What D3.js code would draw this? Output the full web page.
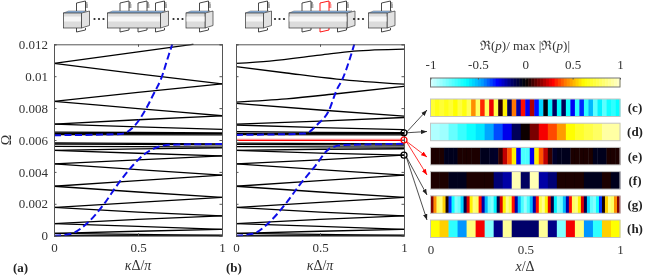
<!DOCTYPE html>
<html>
<head>
<meta charset="utf-8">
<script src="https://cdn.jsdelivr.net/npm/d3@7"></script>
<style>
	body { margin: 0; background: #fff; }
	svg { display: block; }
	text { font-family: "Liberation Serif", serif; fill: #333; }
	.axis text { font-size: 13px; }
	.axis path, .axis line { stroke: #555; }
	.bold { font-weight: bold; fill: #222; }
</style>
</head>
<body>
<div class="js-graph"></div>
<script>
(function(d3) {
	// dispersion bands, [kappa, omega]
	var bandsA = [
		[[0, 0], [1, 0.00003]],
		[[0, 0.00015], [0.5, 0.00008], [1, 0]],
		[[0, 0.00015], [0.5, 0.00028], [1, 0.0004]],
		[[0, 0.00076], [0.5, 0.00058], [1, 0.0004]],
		[[0, 0.00076], [0.5, 0.00102], [1, 0.00124]],
		[[0, 0.00177], [0.5, 0.00148], [1, 0.00124]],
		[[0, 0.00177], [0.5, 0.00209], [1, 0.0024]],
		[[0, 0.0031], [0.5, 0.00274], [1, 0.0024]],
		[[0, 0.0031], [0.5, 0.00345], [1, 0.0038]],
		[[0, 0.0045], [0.5, 0.00414], [1, 0.0038]],
		[[0, 0.0045], [0.5, 0.00476], [1, 0.005]],
		[[0, 0.00535], [0.5, 0.00517], [1, 0.005]],
		[[0, 0.00535], [0.5, 0.00544], [1, 0.0055]],
		[[0, 0.0056], [0.5, 0.00558], [1, 0.00555]],
		[[0, 0.00575], [0.5, 0.00573], [1, 0.0057]],
		[[0, 0.00582], [1, 0.00576]],
		[[0, 0.00634], [1, 0.00632]],
		[[0, 0.00642], [1, 0.0064]],
		[[0, 0.0065], [0.5, 0.00647], [1, 0.00645]],
		[[0, 0.0070], [0.5, 0.00682], [1, 0.00667]],
		[[0, 0.0070], [0.5, 0.00727], [1, 0.00752]],
		[[0, 0.00842], [0.5, 0.00797], [1, 0.00752]],
		[[0, 0.00842], [0.5, 0.00898], [1, 0.00952]],
		[[0, 0.0108], [0.5, 0.01014], [1, 0.00952]],
		[[0, 0.0108], [0.5, 0.01152], [0.83, 0.012]]
	];
	var bandsB = [
		[[0, 0], [1, 0.00003]],
		[[0, 0.00015], [0.5, 0.00008], [1, 0]],
		[[0, 0.00015], [0.5, 0.00028], [1, 0.0004]],
		[[0, 0.00076], [0.5, 0.00058], [1, 0.0004]],
		[[0, 0.00076], [0.5, 0.00102], [1, 0.00124]],
		[[0, 0.00177], [0.5, 0.00148], [1, 0.00124]],
		[[0, 0.00177], [0.5, 0.00209], [1, 0.0024]],
		[[0, 0.0031], [0.5, 0.00274], [1, 0.0024]],
		[[0, 0.0031], [0.5, 0.00345], [1, 0.0038]],
		[[0, 0.0045], [0.5, 0.00414], [1, 0.0038]],
		[[0, 0.0045], [0.5, 0.00476], [1, 0.00505]],
		[[0, 0.00535], [0.5, 0.00518], [1, 0.00505]],
		[[0, 0.00535], [0.5, 0.00542], [1, 0.00545]],
		[[0, 0.00558], [1, 0.00555]],
		[[0, 0.00572], [1, 0.00568]],
		[[0, 0.0058], [1, 0.00576]],
		[[0, 0.00634], [1, 0.00632]],
		[[0, 0.00642], [1, 0.0064]],
		[[0, 0.00652], [0.5, 0.00648], [1, 0.00646]],
		[[0, 0.00694], [0.5, 0.00678], [1, 0.00665]],
		[[0, 0.007], [0.5, 0.00718], [1, 0.00741]],
		[[0, 0.0083], [0.5, 0.00788], [1, 0.0075]],
		[[0, 0.00838], [0.3, 0.00858], [0.6, 0.0089], [1, 0.00937]],
		[[0, 0.0106], [0.3, 0.0102], [0.6, 0.00982], [1, 0.0095]],
		[[0, 0.0108], [0.2, 0.01095], [0.5, 0.01132], [0.7, 0.01157], [1, 0.0117]]
	];
	var redLines = [
		[[0, 0.00604], [1, 0.00604]],
		[[0, 0.00597], [1, 0.00597]]
	];
	var lowerFluidA = [[0, 0], [0.095, 0.0001], [0.195, 0.00076], [0.294, 0.00193], [0.378, 0.0032], [0.473, 0.00445], [0.533, 0.00507], [0.592, 0.00545], [0.69, 0.0057], [1, 0.00575]];
	var upperFluidA = [[0, 0.0063], [0.394, 0.00637], [0.483, 0.00693], [0.545, 0.0079], [0.596, 0.00895], [0.636, 0.0098], [0.682, 0.0113], [0.704, 0.012]];
	var lowerFluidB = [[0, 0], [0.1, 0.00012], [0.192, 0.00078], [0.29, 0.00193], [0.38, 0.0032], [0.47, 0.00435], [0.55, 0.0054], [0.63, 0.00568], [0.77, 0.00572], [1, 0.00576]];
	var upperFluidB = [[0, 0.00632], [0.41, 0.0064], [0.49, 0.00703], [0.55, 0.00778], [0.6, 0.00915], [0.633, 0.0098], [0.68, 0.01117], [0.704, 0.012]];

	var xTicks = [0, 0.5, 1];
	var yTicks = [0, 0.002, 0.004, 0.006, 0.008, 0.01, 0.012];
	var colorTicks = [-1, -0.5, 0, 0.5, 1];

	// pressure profiles along the cell
	var fieldC = [0.72, 0.66, 0.72, 0.66, 0.72, 0.62, 0.74, 0.64, 0.78, 0.45, 0.8, 0.33, 0.8, 0.27, 0.75, 0.05, 0.6, -0.12, 0.42, -0.2, 0.3, -0.28, 0.2, -0.3, -0.55, -0.02, -0.6, -0.13, -0.62, -0.12, -0.65, -0.28, -0.7, -0.33, -0.7, -0.5, -0.78, -0.6, -0.78, -0.65, -0.7, -0.62];
	var fieldD = [-0.93, -0.9, -0.8, -0.72, -0.65, -0.58, -0.47, -0.37, -0.27, -0.12, 0.02, 0.14, 0.28, 0.37, 0.47, 0.62, 0.7, 0.75, 0.8, 0.92, 0.92];
	var fieldE = [0.03, 0.03, 0.03, -0.04, -0.04, -0.04, 0.03, 0.03, 0.03, 0.03, 0.03, -0.04, -0.04, -0.05, -0.06, 0.06, 0.22, 0.38, 0.6, -0.28, -0.75, -0.75, -0.28, 0.6, 0.38, 0.22, 0.06, -0.06, -0.04, -0.04, -0.04, 0.03, 0.03, 0.03, 0.03, 0.03, -0.04, -0.04, -0.04, 0.03, 0.03, 0.03];
	var fieldF = [0.03, 0.03, -0.04, -0.04, 0.03, 0.03, 0.03, -0.15, -0.2, 0.95, -0.13, 0.95, -0.2, -0.15, 0.03, 0.03, 0.03, -0.04, -0.04, 0.03, -0.04];
	var fieldG = [0.15, 0.45, 0.8, 0.85, 0.55, 0.03, -0.35, -0.65, -0.85, -0.8, -0.55, -0.1, 0.25, 0.6, 0.85, 0.8, 0.3, -0.2, -0.5, -0.8, -0.85, -0.6, -0.1, 0.25, 0.6, 0.88, 0.75, 0.3, -0.2, -0.5, -0.75, -0.88, -0.75, -0.5, -0.2, 0.3, 0.75, 0.88, 0.6, 0.25, -0.1, -0.6, -0.85, -0.8, -0.5, -0.2, 0.3, 0.8, 0.85, 0.6, 0.25, -0.1, -0.55, -0.8, -0.85, -0.65, -0.35, 0.03, 0.55, 0.85, 0.8, 0.45, 0.15];
	var fieldH = [0.63, 0.55, -0.7, -0.45, 0.85, 0.28, -0.85, -0.17, 0.9, -0.14, -0.14, -0.14, 0.9, -0.17, -0.85, 0.28, 0.85, -0.45, -0.7, 0.55, 0.63];
	var fieldNames = ['(c)', '(d)', '(e)', '(f)', '(g)', '(h)'];
	var fields = [fieldC, fieldD, fieldE, fieldF, fieldG, fieldH];

	// marked modes at the zone edge in panel (b), and which profiles they go to
	var markedModes = [
		{ omega: 0.00645, color: '#000', targets: [0, 1] },
		{ omega: 0.006, color: '#f00', targets: [2, 3] },
		{ omega: 0.00505, color: '#000', targets: [4, 5] }
	];

	var colorStops = [-1, -0.62, -0.46, -0.29, -0.13, 0, 0.13, 0.29, 0.43, 0.62, 1],
		colorValues = ['#d8ffff', '#00ffff', '#00a0ff', '#0000ff', '#000060', '#000000', '#700000', '#ff0000', '#ff8000', '#ffff00', '#ffffcf'];

	var w = 645,
		h = 275,
		svg = d3.select('.js-graph').append('svg');
	svg.attr('width', w).attr('height', h);

	var defs = svg.append('defs');
	defs.append('filter')
		.attr('id', 'soft')
		.attr('filterUnits', 'userSpaceOnUse')
		.attr('x', 0).attr('y', 0).attr('width', w).attr('height', h)
		.append('feGaussianBlur')
		.attr('stdDeviation', 0.35);

	var graph = svg.append('g').attr('filter', 'url(#soft)');

	var color = d3.scaleLinear().domain(colorStops).range(colorValues).clamp(true);
	var y = d3.scaleLinear().domain([0, 0.012]).range([235.7, 44.3]);
	var line = d3.line().curve(d3.curveMonotoneX);
	var plainNumber = function(d) { return String(d); };

	[['arrow-black', '#222'], ['arrow-red', '#f00']].forEach(function(a) {
		defs.append('marker')
			.attr('id', a[0])
			.attr('viewBox', '0 0 8 6')
			.attr('refX', 8)
			.attr('refY', 3)
			.attr('markerWidth', 6)
			.attr('markerHeight', 5)
			.attr('markerUnits', 'userSpaceOnUse')
			.attr('orient', 'auto')
			.append('path')
			.attr('d', 'M0,0L8,3L0,6Z')
			.attr('fill', a[1]);
	});

	function drawPanel(left, bands, lower, upper, red, showY, tag, tagX) {
		var x = d3.scaleLinear().domain([0, 1]).range([left, left + 168]);
		line.x(function(d) { return x(d[0]); }).y(function(d) { return y(d[1]); });

		var g = graph.append('g');

		g.selectAll('path.band')
			.data(bands)
			.enter()
			.append('path')
			.attr('class', 'band')
			.attr('d', line)
			.attr('fill', 'none')
			.attr('stroke', '#000')
			.attr('stroke-width', 1.3);

		if (red) {
			g.selectAll('path.red')
				.data(red)
				.enter()
				.append('path')
				.attr('class', 'red')
				.attr('d', line)
				.attr('fill', 'none')
				.attr('stroke', function(d, i) { return i ? '#f00' : '#ff8a8a'; })
				.attr('stroke-width', 1.2);
		}

		g.selectAll('path.fluid')
			.data([lower, upper])
			.enter()
			.append('path')
			.attr('class', 'fluid')
			.attr('d', line)
			.attr('fill', 'none')
			.attr('stroke', '#1010e8')
			.attr('stroke-width', 2)
			.attr('stroke-dasharray', '7,3.5');

		g.append('g')
			.attr('class', 'axis')
			.attr('transform', 'translate(0,235.7)')
			.call(d3.axisBottom(x).tickValues(xTicks).tickFormat(plainNumber).tickSize(-2.5).tickPadding(7));
		g.append('g')
			.attr('class', 'axis')
			.attr('transform', 'translate(0,44.3)')
			.call(d3.axisTop(x).tickValues(xTicks).tickFormat('').tickSize(-2.5));
		g.append('g')
			.attr('class', 'axis')
			.attr('transform', 'translate(' + left + ',0)')
			.call(d3.axisLeft(y).tickValues(yTicks).tickFormat(showY ? plainNumber : '').tickSize(-2.5).tickPadding(6));
		g.append('g')
			.attr('class', 'axis')
			.attr('transform', 'translate(' + (left + 168) + ',0)')
			.call(d3.axisRight(y).tickValues(yTicks).tickFormat('').tickSize(-2.5));

		var label = g.append('text')
			.attr('x', x(0.5))
			.attr('y', 270)
			.attr('text-anchor', 'middle')
			.style('font-size', '14px');
		label.append('tspan').style('font-style', 'italic').text('κ');
		label.append('tspan').text('Δ/');
		label.append('tspan').style('font-style', 'italic').text('π');

		g.append('text')
			.attr('class', 'bold')
			.attr('x', tagX)
			.attr('y', 272)
			.style('font-size', '13px')
			.text(tag);

		return x;
	}

	drawPanel(54, bandsA, lowerFluidA, upperFluidA, null, true, '(a)', 13);
	var xB = drawPanel(236, bandsB, lowerFluidB, upperFluidB, redLines, false, '(b)', 226);

	graph.append('text')
		.attr('transform', 'translate(11,140) rotate(-90)')
		.attr('text-anchor', 'middle')
		.style('font-size', '14px')
		.text('Ω');

	// colorbar
	var barLeft = 430.5,
		barRight = 620,
		cb = d3.scaleLinear().domain([-1, 1]).range([barLeft, barRight]),
		levels = d3.range(64);

	graph.selectAll('rect.level')
		.data(levels)
		.enter()
		.append('rect')
		.attr('class', 'level')
		.attr('x', function(d) { return cb(-1 + 2 * d / 64); })
		.attr('y', 78)
		.attr('width', (barRight - barLeft) / 64 + 0.5)
		.attr('height', 9)
		.attr('fill', function(d) { return color(-1 + 2 * (d + 0.5) / 64); });
	graph.append('rect')
		.attr('x', barLeft)
		.attr('y', 78)
		.attr('width', barRight - barLeft)
		.attr('height', 9)
		.attr('fill', 'none')
		.attr('stroke', '#777');
	graph.append('g')
		.attr('class', 'axis')
		.attr('transform', 'translate(0,78)')
		.call(d3.axisTop(cb).tickValues(colorTicks).tickFormat(plainNumber).tickSize(-1.5).tickPadding(9))
		.call(function(s) { s.select('.domain').remove(); });

	var title = graph.append('text')
		.attr('x', 525)
		.attr('y', 50)
		.attr('text-anchor', 'middle')
		.style('font-size', '13px');
	title.append('tspan').text('ℜ(');
	title.append('tspan').style('font-style', 'italic').text('p');
	title.append('tspan').text(')/ max |ℜ(');
	title.append('tspan').style('font-style', 'italic').text('p');
	title.append('tspan').text(')|');

	// profile strips
	var stripTop = d3.scalePoint().domain(fieldNames).range([99, 220]),
		stripH = 17.5;

	fields.forEach(function(values, i) {
		var cell = d3.scaleLinear().domain([0, values.length]).range([barLeft, barRight]);
		var top = stripTop(fieldNames[i]);
		graph.append('g')
			.selectAll('rect')
			.data(values)
			.enter()
			.append('rect')
			.attr('x', function(d, j) { return cell(j); })
			.attr('y', top)
			.attr('width', cell(1) - cell(0) + 0.4)
			.attr('height', stripH)
			.attr('fill', function(d) { return color(d); });
		graph.append('rect')
			.attr('x', barLeft)
			.attr('y', top)
			.attr('width', barRight - barLeft)
			.attr('height', stripH)
			.attr('fill', 'none')
			.attr('stroke', '#c4c4c4');
		graph.append('text')
			.attr('class', 'bold')
			.attr('x', 635)
			.attr('y', top + stripH / 2 + 4.5)
			.attr('text-anchor', 'middle')
			.style('font-size', '13px')
			.text(fieldNames[i]);
	});

	var xProfile = d3.scaleLinear().domain([0, 1]).range([barLeft, barRight]);
	graph.append('g')
		.attr('class', 'axis')
		.attr('transform', 'translate(0,237.5)')
		.call(d3.axisBottom(xProfile).tickValues(xTicks).tickFormat(plainNumber).tickSize(0).tickPadding(7))
		.call(function(s) { s.select('.domain').remove(); });

	var xLabel = graph.append('text')
		.attr('x', 525)
		.attr('y', 271)
		.attr('text-anchor', 'middle')
		.style('font-size', '14px');
	xLabel.append('tspan').style('font-style', 'italic').text('x');
	xLabel.append('tspan').text('/Δ');

	// circles and arrows from the marked modes to their strips
	var arrowEnds = [110, 131.5, 157, 175, 195, 220];
	markedModes.forEach(function(m) {
		var cx = xB(1),
			cy = y(m.omega);
		graph.append('g')
			.selectAll('line')
			.data(m.targets)
			.enter()
			.append('line')
			.attr('x1', cx + 2)
			.attr('y1', cy + (m.targets[0] ? 1 : 0))
			.attr('x2', 427)
			.attr('y2', function(t) { return arrowEnds[t]; })
			.attr('stroke', m.color === '#f00' ? '#f00' : '#222')
			.attr('stroke-width', 0.8)
			.attr('marker-end', m.color === '#f00' ? 'url(#arrow-red)' : 'url(#arrow-black)');
		graph.append('circle')
			.attr('cx', cx)
			.attr('cy', cy)
			.attr('r', 3)
			.attr('fill', 'none')
			.attr('stroke', m.color)
			.attr('stroke-width', 1.2);
	});

	// unit cell sketches above the panels
	function fin(g, x0, stroke) {
		g.append('path')
			.attr('d', 'M' + x0 + ',11 V3 L' + (x0 + 9) + ',1 V11')
			.attr('fill', '#fff')
			.attr('stroke', stroke)
			.attr('stroke-width', 0.9);
		g.append('path')
			.attr('d', 'M' + (x0 + 9) + ',3 h2 M' + (x0 + 9) + ',5 h2.4 M' + (x0 + 9) + ',7 h2.4')
			.attr('stroke', stroke)
			.attr('stroke-width', 0.9);
		g.append('path')
			.attr('d', 'M' + x0 + ',28 V32 L' + (x0 + 9) + ',30 V28')
			.attr('fill', '#fff')
			.attr('stroke', stroke)
			.attr('stroke-width', 0.9);
	}

	function block(g, x0, x1, fins, redFin) {
		fins.forEach(function(f, i) { fin(g, f, i === redFin ? '#f00' : '#333'); });
		g.append('path')
			.attr('d', 'M' + x1 + ',13 L' + (x1 + 8) + ',11 V25.5 L' + x1 + ',28 Z')
			.attr('fill', '#e2e2e2')
			.attr('stroke', '#333')
			.attr('stroke-width', 0.7);
		g.append('path')
			.attr('d', 'M' + x0 + ',13 L' + (x0 + 5) + ',11 H' + (x1 + 5) + ' L' + x1 + ',13 Z')
			.attr('fill', '#8fbcf0')
			.attr('stroke', '#555')
			.attr('stroke-width', 0.5);
		g.append('rect')
			.attr('x', x0)
			.attr('y', 13)
			.attr('width', x1 - x0)
			.attr('height', 15)
			.attr('fill', '#dcdcdc')
			.attr('stroke', '#333')
			.attr('stroke-width', 0.7);
		g.append('rect')
			.attr('x', x0 + 0.5)
			.attr('y', 16.5)
			.attr('width', x1 - x0 - 1)
			.attr('height', 5)
			.attr('fill', '#f6f6f6');
	}

	function dots(g, x0) {
		g.append('g')
			.selectAll('circle')
			.data([0, 4.5, 9])
			.enter()
			.append('circle')
			.attr('cx', function(d) { return x0 + d; })
			.attr('cy', 19)
			.attr('r', 1.1)
			.attr('fill', '#222');
	}

	var sketch = graph.append('g');
	block(sketch, 63.5, 81.5, [76.5], -1);
	dots(sketch, 94.5);
	block(sketch, 107.5, 160.5, [120, 138, 155.5], -1);
	dots(sketch, 173.5);
	block(sketch, 186, 205, [199.5], -1);

	block(sketch, 245.5, 263.5, [258.5], -1);
	dots(sketch, 275);
	block(sketch, 289, 347, [302, 320, 337.5], 1);
	dots(sketch, 354);
	block(sketch, 368.5, 387, [381.5], -1);
})(d3);
</script>
</body>
</html>
